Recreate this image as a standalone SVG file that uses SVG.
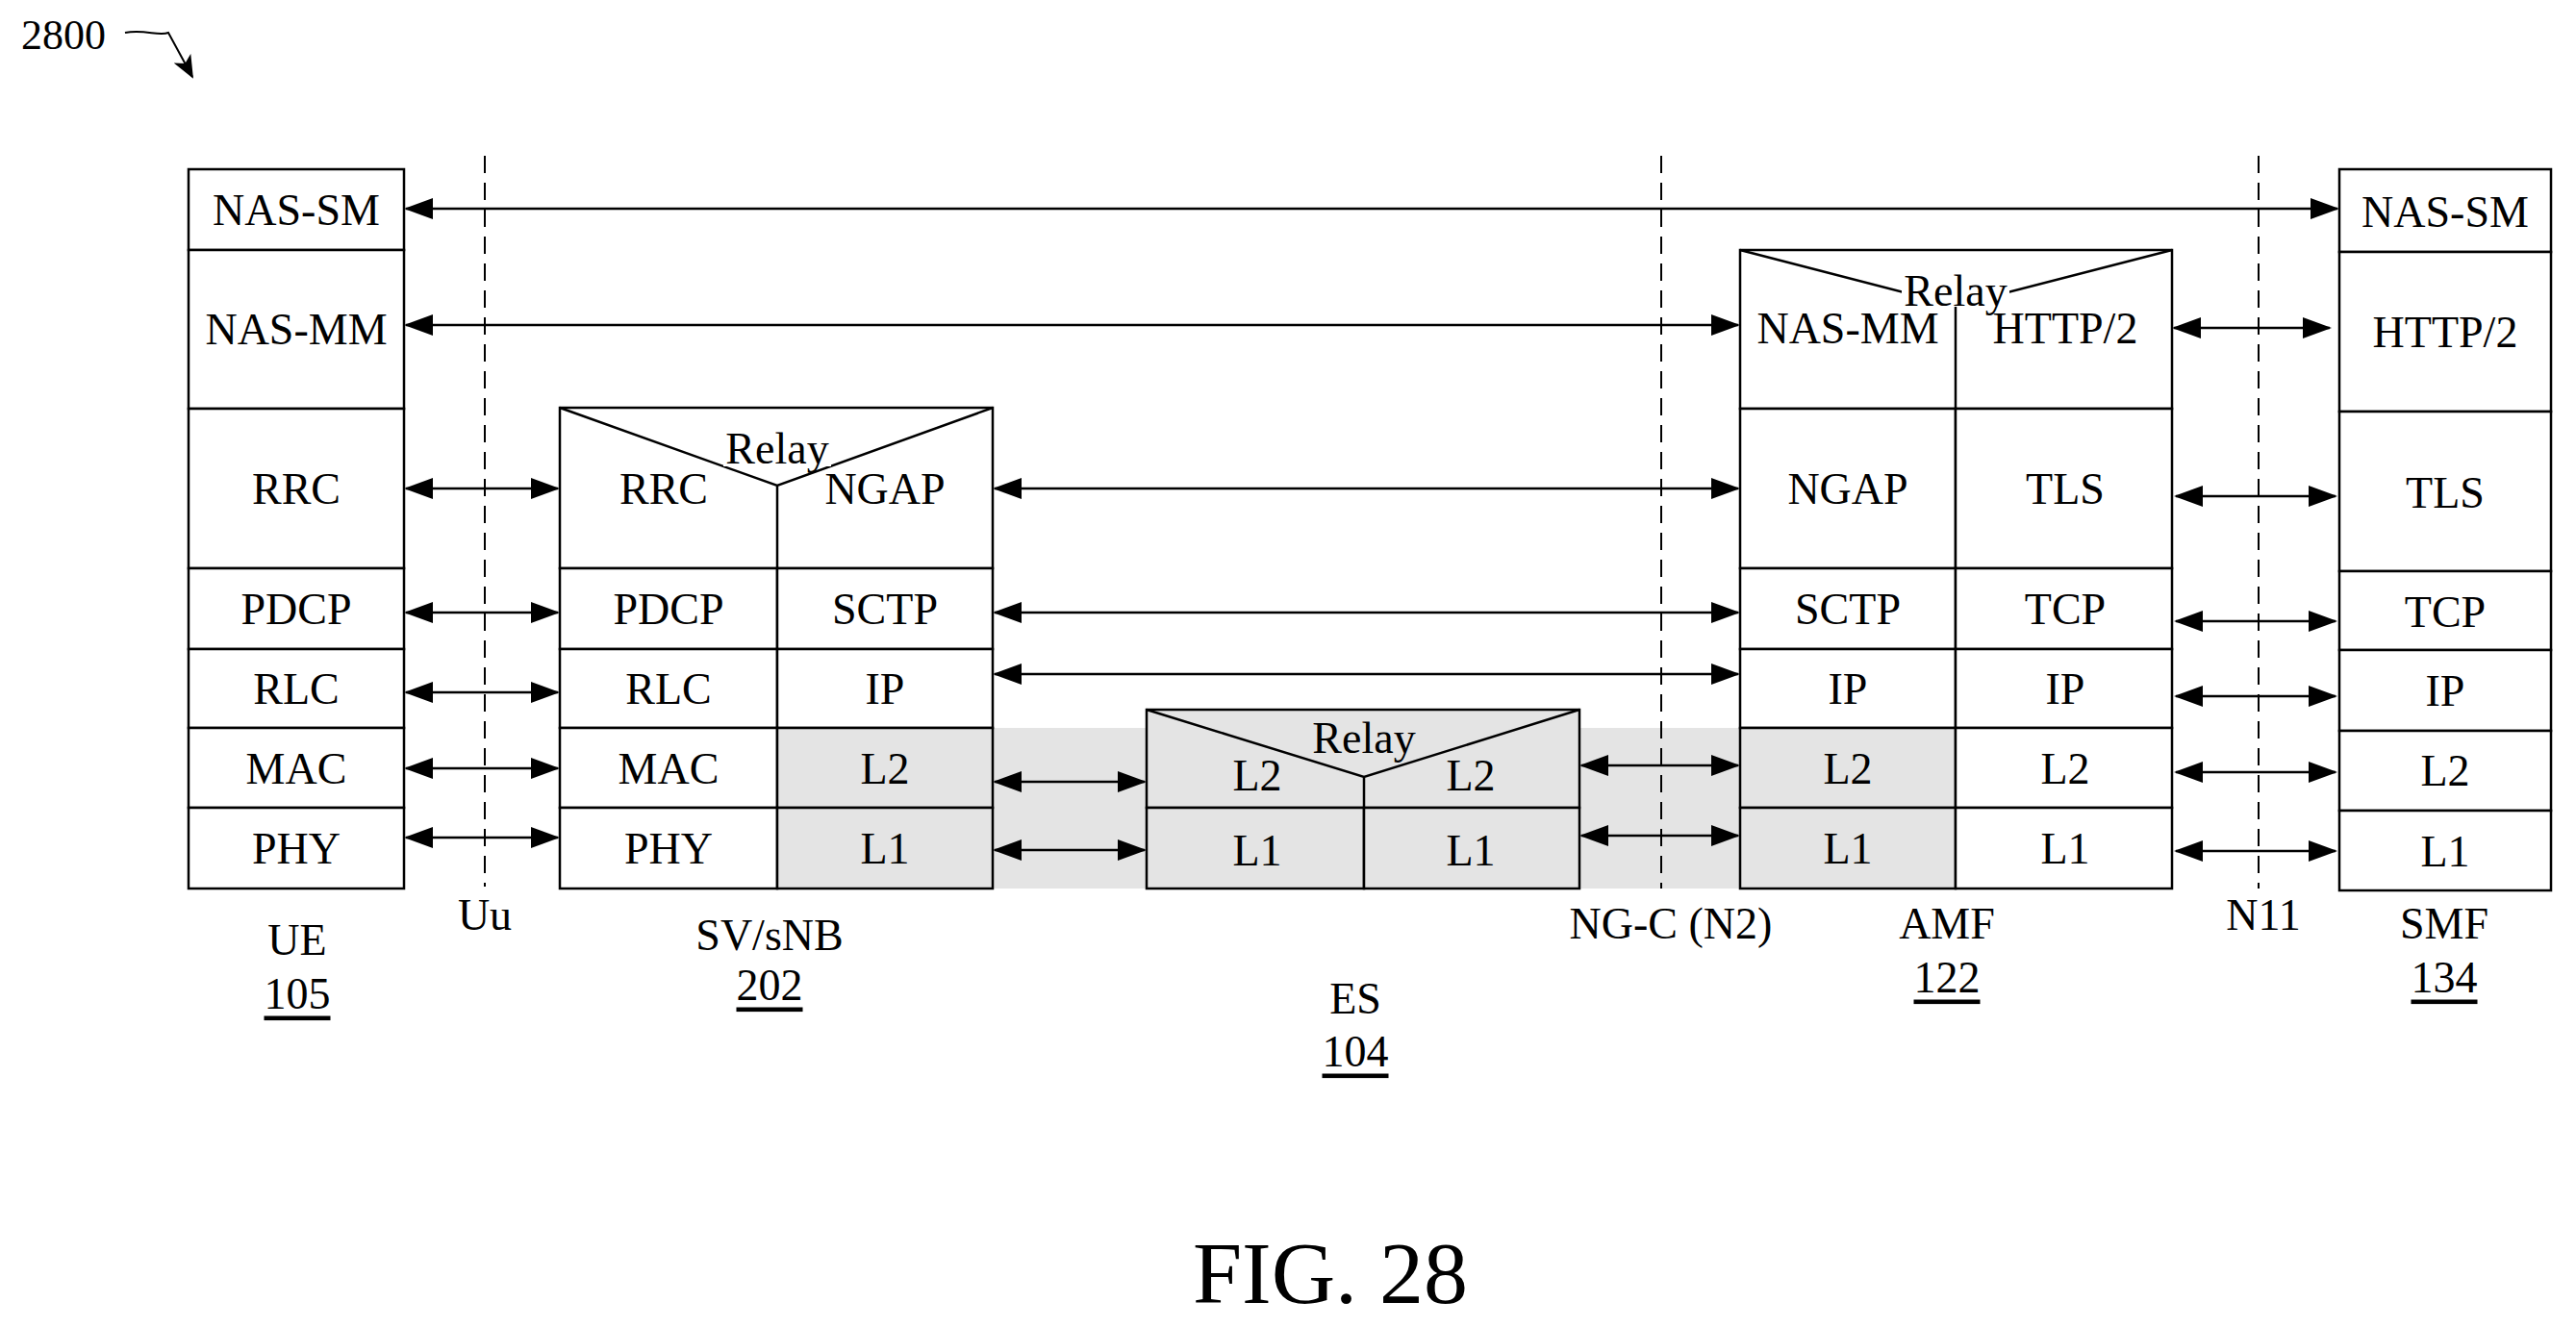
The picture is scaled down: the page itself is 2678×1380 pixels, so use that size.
<svg xmlns="http://www.w3.org/2000/svg" width="2678" height="1380" viewBox="0 0 2678 1380">
<style>
text{font-family:"Liberation Serif","Times New Roman",serif;font-size:46px;fill:#000;text-anchor:middle;dominant-baseline:central}
.b{fill:#fff;stroke:#000;stroke-width:2.5}
.g{fill:#e4e4e4;stroke:#000;stroke-width:2.5}
.l{stroke:#000;stroke-width:2.5;fill:none}
.d{stroke:#000;stroke-width:2;stroke-dasharray:18,10;fill:none}
.a{stroke:#000;stroke-width:2.5;fill:none;marker-start:url(#h);marker-end:url(#h)}
.u{text-decoration:underline}
</style>
<defs>
<marker id="h" markerUnits="userSpaceOnUse" markerWidth="30" markerHeight="22" refX="28" refY="11" orient="auto-start-reverse"><path d="M0,0 L30,11 L0,22 Z" fill="#000"/></marker>
<marker id="h2" markerUnits="userSpaceOnUse" markerWidth="24" markerHeight="20" refX="22" refY="10" orient="auto"><path d="M0,0 L24,10 L0,20 L6,10 Z" fill="#000"/></marker>
</defs>
<rect x="808" y="757" width="1225" height="167" fill="#e4e4e4"/>
<g id="ref"><text x="66" y="36" style="font-size:44px">2800</text><path d="M130,34 C150,30 165,38 175,34 L200,80" class="l" style="stroke-width:2" marker-end="url(#h2)"/></g>
<g id="dividers">
<line x1="504" y1="162" x2="504" y2="922" class="d"/><text x="504" y="951">Uu</text>
<line x1="1727" y1="162" x2="1727" y2="924" class="d"/><text x="1737" y="960">NG-C (N2)</text>
<line x1="2348" y1="162" x2="2348" y2="924" class="d"/><text x="2353" y="951">N11</text>
</g>
<g id="ue">
<rect class="b" x="196" y="176" width="224" height="84"/><text x="308" y="218">NAS-SM</text>
<rect class="b" x="196" y="260" width="224" height="165"/><text x="308" y="342">NAS-MM</text>
<rect class="b" x="196" y="425" width="224" height="166"/><text x="308" y="508">RRC</text>
<rect class="b" x="196" y="591" width="224" height="84"/><text x="308" y="633">PDCP</text>
<rect class="b" x="196" y="675" width="224" height="82"/><text x="308" y="716">RLC</text>
<rect class="b" x="196" y="757" width="224" height="83"/><text x="308" y="799">MAC</text>
<rect class="b" x="196" y="840" width="224" height="84"/><text x="308" y="882">PHY</text>
<text x="309" y="977">UE</text><text x="309" y="1033" class="u">105</text>
</g>
<g id="svsnb">
<rect class="b" x="582" y="424" width="450" height="167"/>
<path class="l" d="M582,424 L808,505 L1032,424 M808,505 L808,591"/>
<rect x="752" y="445" width="112" height="40" fill="#fff"/>
<text x="808" y="466">Relay</text>
<text x="690" y="508">RRC</text><text x="920" y="508">NGAP</text>
<rect class="b" x="582" y="591" width="226" height="84"/><text x="695" y="633">PDCP</text>
<rect class="b" x="808" y="591" width="224" height="84"/><text x="920" y="633">SCTP</text>
<rect class="b" x="582" y="675" width="226" height="82"/><text x="695" y="716">RLC</text>
<rect class="b" x="808" y="675" width="224" height="82"/><text x="920" y="716">IP</text>
<rect class="b" x="582" y="757" width="226" height="83"/><text x="695" y="799">MAC</text>
<rect class="g" x="808" y="757" width="224" height="83"/><text x="920" y="799">L2</text>
<rect class="b" x="582" y="840" width="226" height="84"/><text x="695" y="882">PHY</text>
<rect class="g" x="808" y="840" width="224" height="84"/><text x="920" y="882">L1</text>
<text x="800" y="972">SV/sNB</text><text x="800" y="1024" class="u">202</text>
</g>
<g id="es">
<rect class="g" x="1192" y="738" width="450" height="102"/>
<path class="l" d="M1192,738 L1418,808 L1642,738 M1418,808 L1418,924"/>
<rect x="1362" y="748" width="112" height="38" fill="#e4e4e4"/>
<text x="1418" y="767">Relay</text>
<text x="1307" y="806">L2</text><text x="1529" y="806">L2</text>
<rect class="g" x="1192" y="840" width="226" height="84"/><text x="1307" y="884">L1</text>
<rect class="g" x="1418" y="840" width="224" height="84"/><text x="1529" y="884">L1</text>
<text x="1409" y="1038">ES</text><text x="1409" y="1093" class="u">104</text>
</g>
<g id="amf">
<rect class="b" x="1809" y="260" width="449" height="165"/>
<path class="l" d="M1809,260 L2033,318 L2258,260 M2033,318 L2033,425"/>
<rect x="1977" y="283" width="112" height="36" fill="#fff"/>
<text x="2033" y="302">Relay</text>
<text x="1921" y="341">NAS-MM</text><text x="2147" y="341">HTTP/2</text>
<rect class="b" x="1809" y="425" width="224" height="166"/><text x="1921" y="508">NGAP</text>
<rect class="b" x="2033" y="425" width="225" height="166"/><text x="2147" y="508">TLS</text>
<rect class="b" x="1809" y="591" width="224" height="84"/><text x="1921" y="633">SCTP</text>
<rect class="b" x="2033" y="591" width="225" height="84"/><text x="2147" y="633">TCP</text>
<rect class="b" x="1809" y="675" width="224" height="82"/><text x="1921" y="716">IP</text>
<rect class="b" x="2033" y="675" width="225" height="82"/><text x="2147" y="716">IP</text>
<rect class="g" x="1809" y="757" width="224" height="83"/><text x="1921" y="799">L2</text>
<rect class="b" x="2033" y="757" width="225" height="83"/><text x="2147" y="799">L2</text>
<rect class="g" x="1809" y="840" width="224" height="84"/><text x="1921" y="882">L1</text>
<rect class="b" x="2033" y="840" width="225" height="84"/><text x="2147" y="882">L1</text>
<text x="2024" y="960">AMF</text><text x="2024" y="1016" class="u">122</text>
</g>
<g id="smf">
<rect class="b" x="2432" y="176" width="220" height="86"/><text x="2542" y="220">NAS-SM</text>
<rect class="b" x="2432" y="262" width="220" height="166"/><text x="2542" y="345">HTTP/2</text>
<rect class="b" x="2432" y="428" width="220" height="166"/><text x="2542" y="512">TLS</text>
<rect class="b" x="2432" y="594" width="220" height="82"/><text x="2542" y="636">TCP</text>
<rect class="b" x="2432" y="676" width="220" height="84"/><text x="2542" y="718">IP</text>
<rect class="b" x="2432" y="760" width="220" height="83"/><text x="2542" y="801">L2</text>
<rect class="b" x="2432" y="843" width="220" height="83"/><text x="2542" y="885">L1</text>
<text x="2541" y="960">SMF</text><text x="2541" y="1016" class="u">134</text>
</g>
<g id="connectors">
<line class="a" x1="422" y1="217" x2="2430" y2="217"/>
<line class="a" x1="422" y1="338" x2="1807" y2="338"/>
<line class="a" x1="422" y1="508" x2="580" y2="508"/>
<line class="a" x1="422" y1="637" x2="580" y2="637"/>
<line class="a" x1="422" y1="720" x2="580" y2="720"/>
<line class="a" x1="422" y1="799" x2="580" y2="799"/>
<line class="a" x1="422" y1="871" x2="580" y2="871"/>
<line class="a" x1="1034" y1="508" x2="1807" y2="508"/>
<line class="a" x1="1034" y1="637" x2="1807" y2="637"/>
<line class="a" x1="1034" y1="701" x2="1807" y2="701"/>
<line class="a" x1="1034" y1="813" x2="1190" y2="813"/>
<line class="a" x1="1034" y1="884" x2="1190" y2="884"/>
<line class="a" x1="1644" y1="796" x2="1807" y2="796"/>
<line class="a" x1="1644" y1="869" x2="1807" y2="869"/>
<line class="a" x1="2260" y1="341" x2="2422" y2="341"/>
<line class="a" x1="2262" y1="516" x2="2428" y2="516"/>
<line class="a" x1="2262" y1="646" x2="2428" y2="646"/>
<line class="a" x1="2262" y1="724" x2="2428" y2="724"/>
<line class="a" x1="2262" y1="803" x2="2428" y2="803"/>
<line class="a" x1="2262" y1="885" x2="2428" y2="885"/>
</g>
<text x="1383" y="1324" style="font-size:92px">FIG. 28</text>
</svg>
